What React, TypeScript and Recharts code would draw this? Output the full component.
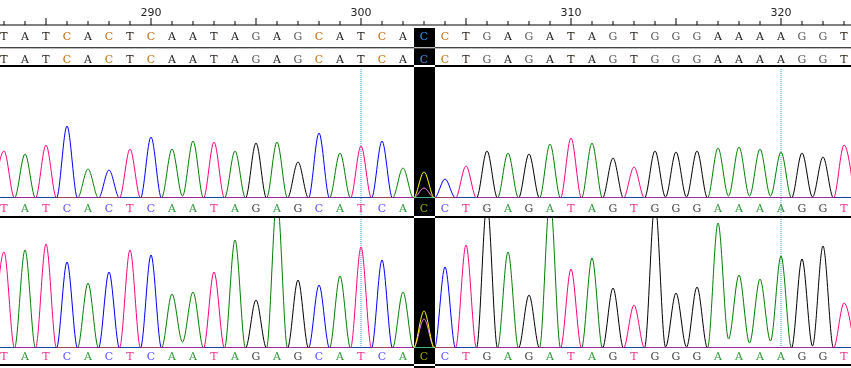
import React from "react";
import { ComposedChart, LineChart, Line, XAxis, YAxis, ReferenceLine } from "recharts";

// trace window: bases 283..323
const FIRST_POS = 283;
const BASES = "TATCACTCAATAGAGCATCACCTGAGATAGTGGGAAAAGGT".split("");
const positions = BASES.map((_, i) => FIRST_POS + i);
const guidePositions = [300, 320];
const highlightPos = 303;

// peak heights (baseline = 0)
const peaksTop = [
  47, 44, 53, 72, 29, 28, 49, 61, 49, 57,
  56, 47, 55, 56, 36, 65, 45, 52, 57, 30,
  26, 19, 32, 47, 45, 44, 54, 60, 55, 40,
  31, 47, 46, 47, 50, 51, 49, 46, 45, 41,
  53,
];
const peaksBottom = [
  96, 98, 104, 86, 65, 76, 98, 93, 54, 56,
  76, 108, 48, 150, 68, 63, 72, 101, 88, 56,
  37, 81, 103, 145, 96, 53, 150, 79, 90, 60,
  43, 145, 55, 61, 125, 73, 69, 92, 89, 102,
  45,
];
// valley between base p and p+1 when both are the same channel
const valleysTop: Record<number, number> = { 291: 2, 314: 1, 315: 1, 317: 2, 318: 2, 319: 2, 321: 1 };
const valleysBottom: Record<number, number> = { 291: 6, 314: 1, 315: 1, 317: 9, 318: 5, 319: 7, 321: 2 };
// secondary (mixed) peaks
const mixedTop = [{ pos: 303, base: "A", h: 10 }];
const mixedBottom = [{ pos: 303, base: "A", h: 29 }];

const WIDTH = 851;
const X_MIN = FIRST_POS - 4 / 21;
const X_MAX = X_MIN + WIDTH / 21;

const CHANNELS = ["G", "A", "C", "T"];
const traceColor: Record<string, string> = { A: "#008000", C: "#0000ff", G: "#000000", T: "#ff0080" };
const labelColor: Record<string, string> = { A: "#2f9a3a", C: "#5a50ff", G: "#404040", T: "#f0308c" };
const seqColor: Record<string, string> = { A: "#222222", C: "#c06a10", G: "#555555", T: "#241a10" };
const LETTER_FONT = "'DejaVu Serif', 'Liberation Serif', serif";
const GUIDE = "#3f9bd0";

function buildTrace(peaks: number[], valleys: Record<number, number>, extra: { pos: number; base: string; h: number }[]) {
  const rows: any[] = [];
  for (let i = 0; i <= BASES.length * 2; i++) {
    const pos = FIRST_POS - 0.5 + i / 2;
    const row: any = { pos, A: 0, C: 0, G: 0, T: 0 };
    if (i % 2 === 1) {
      const k = (i - 1) / 2;
      row[BASES[k]] = peaks[k];
    } else {
      const prev = i / 2 - 1;
      const next = i / 2;
      if (prev >= 0 && next < BASES.length && BASES[prev] === BASES[next]) {
        row[BASES[prev]] = valleys[FIRST_POS + prev] ?? 0;
      }
    }
    extra.filter((e) => e.pos === pos).forEach((e) => (row[e.base] = e.h));
    rows.push(row);
  }
  return rows;
}

const traceTop = buildTrace(peaksTop, valleysTop, mixedTop);
const traceBottom = buildTrace(peaksBottom, valleysBottom, mixedBottom);
const seqRows = positions.map((pos, i) => ({ pos, base: BASES[i], read1: 0.5, read2: 1.5 }));

function RulerTick(props: any) {
  const { x, y, payload } = props;
  const v = payload.value;
  const len = v % 5 === 0 ? 7 : 4;
  return (
    <g>
      <line x1={x} x2={x} y1={y} y2={y - len} stroke="#000" />
      {v % 10 === 0 && (
        <text x={x} y={y - 9} textAnchor="middle" fontSize={11} fontFamily="'DejaVu Sans', Verdana, sans-serif" fill="#222">
          {v}
        </text>
      )}
    </g>
  );
}

function makeBaseTick(offset: number, guideLen: number) {
  return (props: any) => {
    const { x, y, payload } = props;
    const base = BASES[payload.value - FIRST_POS];
    return (
      <g key={payload.value}>
        {guideLen > 0 && guidePositions.includes(payload.value) && (
          <line x1={x} x2={x} y1={y} y2={y + guideLen} stroke={GUIDE} strokeDasharray="1 1" />
        )}
        <text x={x} y={y + offset} dy="0.36em" textAnchor="middle" fontSize={11} fontFamily={LETTER_FONT} fill={labelColor[base]}>
          {base}
        </text>
      </g>
    );
  };
}

function SeqLetter(props: any) {
  const { cx, cy, payload, index } = props;
  return (
    <text key={index} x={cx} y={cy} dy="0.36em" textAnchor="middle" fontSize={11} fontFamily={LETTER_FONT} fill={seqColor[payload.base]}>
      {payload.base}
    </text>
  );
}

function TracePanel({ data, height, axisHeight, max, labelOffset, guideLen }: any) {
  return (
    <LineChart width={WIDTH} height={height} data={data} margin={{ top: 0, right: 0, bottom: 0, left: 0 }}>
      <XAxis
        dataKey="pos"
        type="number"
        domain={[X_MIN, X_MAX]}
        allowDataOverflow
        ticks={positions}
        interval={0}
        height={axisHeight}
        axisLine={false}
        tickLine={false}
        tickSize={0}
        tickMargin={0}
        tick={makeBaseTick(labelOffset, guideLen)}
      />
      <YAxis hide type="number" domain={[0, max]} allowDataOverflow />
      {guidePositions.map((p) => (
        <ReferenceLine key={p} x={p} stroke={GUIDE} strokeDasharray="1 1" />
      ))}
      {CHANNELS.map((c) => (
        <Line
          key={c}
          dataKey={c}
          type="monotone"
          stroke={traceColor[c]}
          strokeWidth={1}
          dot={false}
          activeDot={false}
          isAnimationActive={false}
        />
      ))}
    </LineChart>
  );
}

export default function App() {
  const boxLeft = ((highlightPos - 0.5 - X_MIN) / (X_MAX - X_MIN)) * WIDTH;
  const boxWidth = WIDTH / (X_MAX - X_MIN);
  return (
    <div
      style={{
        position: "absolute",
        left: 0,
        top: 0,
        width: WIDTH,
        height: 368,
        background: "#fff",
        isolation: "isolate",
        overflow: "hidden",
      }}
    >
      <div style={{ position: "absolute", left: 0, top: 0 }}>
        <ComposedChart width={WIDTH} height={68} data={seqRows} margin={{ top: 0, right: 0, bottom: 2, left: 0 }}>
          <XAxis
            dataKey="pos"
            type="number"
            orientation="top"
            domain={[X_MIN, X_MAX]}
            allowDataOverflow
            ticks={positions}
            interval={0}
            height={25}
            stroke="#000"
            tickLine={false}
            tickSize={0}
            tickMargin={0}
            tick={(p: any) => <RulerTick {...p} />}
          />
          <YAxis hide type="number" domain={[0, 1.8]} reversed />
          <ReferenceLine y={1} stroke="#000" />
          <ReferenceLine y={1.8} stroke="#000" strokeWidth={2} />
          <Line dataKey="read1" stroke="none" dot={(p: any) => <SeqLetter {...p} />} activeDot={false} isAnimationActive={false} />
          <Line dataKey="read2" stroke="none" dot={(p: any) => <SeqLetter {...p} />} activeDot={false} isAnimationActive={false} />
        </ComposedChart>
      </div>
      <div style={{ position: "absolute", left: 0, top: 68 }}>
        <TracePanel data={traceTop} height={148} axisHeight={18} max={130} labelOffset={10} guideLen={18} />
      </div>
      <div style={{ position: "absolute", left: 0, top: 216, width: WIDTH, height: 2, background: "#000" }} />
      <div style={{ position: "absolute", left: 0, top: 218 }}>
        <TracePanel data={traceBottom} height={146} axisHeight={16} max={130} labelOffset={8} guideLen={0} />
      </div>
      <div style={{ position: "absolute", left: 0, top: 364, width: WIDTH, height: 2, background: "#000" }} />
      {/* highlighted base: colours inverted like the viewer's selection */}
      <div
        style={{
          position: "absolute",
          left: boxLeft,
          top: 28,
          width: boxWidth,
          height: 340,
          background: "#fff",
          mixBlendMode: "difference",
        }}
      />
    </div>
  );
}
